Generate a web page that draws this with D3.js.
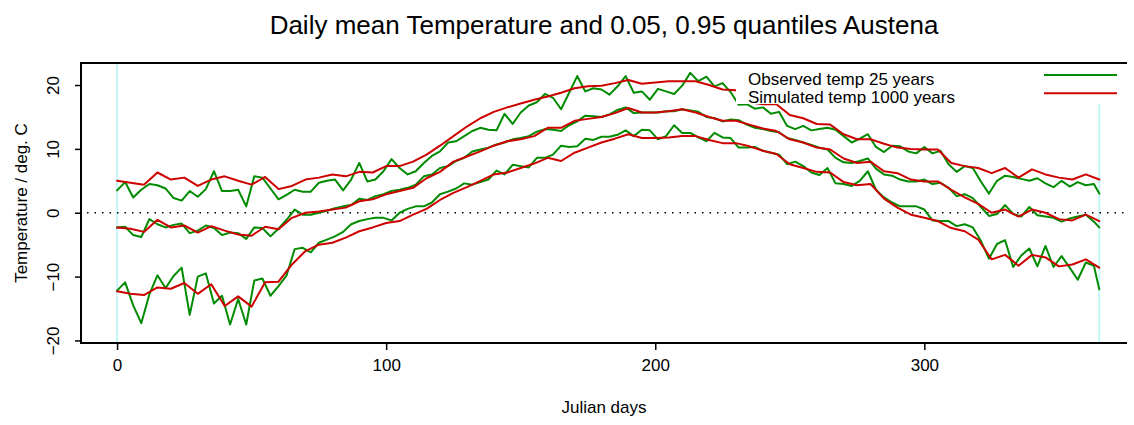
<!DOCTYPE html>
<html>
<head>
<meta charset="utf-8">
<script src="https://cdn.jsdelivr.net/npm/d3@7"></script>
<style>
  body { margin: 0; background: #fff; }
  svg { display: block; font-family: "Liberation Sans", Arial, Helvetica, sans-serif; }
</style>
</head>
<body>
<svg id="chart" width="1134" height="425"></svg>
<script>
// observed (25 years): read every 3rd day, last point is day 365
const obsDays = d3.range(0, 364, 3).concat([365]);
const obsHigh = [3.5, 4.8, 2.4, 3.6, 4.5, 4.3, 3.8, 2.3, 1.9, 3.4, 2.5, 3.7, 6.5, 3.4, 3.4, 3.6, 1.0, 5.7,
  5.5, 3.8, 2.1, 2.8, 3.6, 3.3, 3.3, 4.7, 5.0, 5.2, 3.5, 5.2, 7.8, 4.9, 5.2, 6.5, 8.4,
  7.0, 6.0, 6.5, 7.8, 8.9, 9.6, 11.0, 11.2, 12.0, 12.8, 13.3, 13.0, 12.9, 15.5, 13.9, 15.7, 16.8, 17.3,
  18.6, 18.0, 16.2, 18.8, 21.4, 19.0, 19.5, 19.3, 18.5, 19.8, 21.4, 18.8, 19.0, 17.7, 19.4, 19.0, 18.6, 19.9,
  21.9, 20.6, 21.3, 19.8, 20.3, 18.9, 16.9, 17.0, 16.3, 16.5, 15.5, 15.8, 13.6, 13.1, 13.6, 12.9, 13.1, 13.3,
  13.0, 12.0, 11.0, 11.6, 12.3, 10.3, 9.5, 10.5, 10.4, 9.6, 9.3, 10.3, 9.3, 9.7, 7.6, 6.4, 7.3,
  7.0, 4.9, 3.0, 5.0, 5.8, 5.6, 5.3, 5.0, 5.4, 4.6, 4.0, 5.0, 4.1, 4.8, 4.3, 4.5,
  3.0];
const obsMean = [-2.3, -2.2, -3.5, -3.8, -1.0, -1.8, -2.3, -1.9, -1.7, -3.2, -2.8, -2.0, -2.4, -3.5, -3.1, -3.2, -4.1, -2.3,
  -2.4, -3.7, -2.5, -1.1, 0.5, -0.3, -0.3, 0.0, 0.3, 0.7, 1.0, 1.2, 2.2, 2.0, 2.6, 2.9, 3.4,
  3.6, 3.9, 4.4, 5.7, 6.0, 7.0, 7.3, 8.1, 8.6, 9.6, 9.9, 10.2, 10.7, 11.0, 11.5, 11.7, 12.0, 12.7,
  13.1, 13.0, 12.8, 13.7, 14.3, 15.2, 15.1, 15.0, 15.4, 16.1, 16.5, 15.6, 15.7, 15.7, 15.7, 15.9, 15.9, 16.2,
  16.0, 15.8, 15.0, 14.8, 14.3, 14.6, 14.5, 13.8, 13.3, 13.1, 12.8, 12.6, 11.7, 11.4, 11.0, 10.6, 10.2, 9.9,
  8.6, 7.9, 7.8, 8.1, 8.5, 6.9, 6.0, 5.8, 5.2, 4.9, 4.9, 5.2, 4.5, 4.7, 3.9, 2.6, 2.9,
  2.3, 0.9, -0.5, -0.2, 1.2, -0.2, -0.6, 0.9, -0.4, -0.6, -0.8, -1.4, -0.9, -0.6, -0.3, -1.4,
  -2.3];
const obsLow = [-12.2, -10.9, -14.5, -17.3, -12.8, -9.8, -11.8, -9.9, -8.6, -16.0, -10.0, -9.5, -14.2, -13.0, -17.5, -13.5, -17.5, -10.6,
  -10.3, -13.0, -11.5, -9.8, -5.7, -5.5, -6.2, -4.7, -4.2, -3.7, -3.0, -1.8, -1.3, -1.0, -0.8, -0.8, -1.2,
  0.0, 0.6, 1.0, 1.0, 1.6, 2.9, 3.3, 3.8, 4.6, 4.4, 4.8, 5.2, 6.6, 6.0, 7.5, 7.3, 7.1, 8.6,
  8.6, 9.1, 10.5, 10.3, 10.4, 11.6, 11.4, 11.9, 11.9, 12.2, 12.9, 12.0, 13.0, 12.9, 11.5, 12.0, 13.7, 12.5,
  12.5, 11.8, 11.2, 12.5, 11.8, 11.7, 10.2, 10.2, 10.3, 9.7, 9.4, 9.1, 7.6, 8.0, 7.3, 6.3, 5.9, 7.0,
  4.6, 4.5, 4.2, 5.0, 6.5, 3.6, 2.4, 1.6, 1.0, 1.0, 1.0, 0.5, -1.2, -1.3, -1.3, -2.1, -1.8,
  -2.3, -4.4, -7.2, -4.9, -4.3, -8.5, -6.7, -5.6, -8.4, -5.2, -8.5, -6.8, -8.6, -10.5, -7.8, -8.3,
  -12.0];

// simulated (1000 years): read every 5th day
const simDays = d3.range(0, 366, 5);
const simHigh = [5.0, 4.7, 4.4, 6.3, 5.2, 5.5, 4.2, 5.2, 5.7, 5.0, 4.4,
  5.6, 3.7, 4.2, 5.2, 5.5, 6.0, 5.7, 6.4, 6.3, 7.3,
  7.3, 8.0, 9.1, 10.5, 12.0, 13.5, 14.8, 15.8, 16.5, 17.1, 17.7,
  18.2, 18.8, 19.5, 19.8, 19.9, 20.3, 20.8, 20.2, 20.4, 20.6, 20.6,
  20.6, 20.0, 19.3, 19.2, 17.3, 17.0, 17.0, 15.3, 14.8, 13.9, 13.8,
  12.3, 11.5, 11.5, 10.8, 10.2, 10.0, 9.9, 9.9, 7.8, 7.3,
  7.0, 6.2, 7.0, 5.5, 6.8, 6.0, 5.5, 5.2, 6.0, 5.2];
const simMean = [-2.3, -2.5, -3.0, -1.1, -2.3, -2.0, -3.1, -2.1, -2.8, -3.4, -3.6,
  -2.2, -2.6, -0.8, 0.0, 0.2, 0.5, 0.8, 1.8, 2.1, 2.9,
  3.4, 3.9, 5.4, 6.4, 8.0, 8.8, 9.6, 10.5, 11.2, 11.5, 12.0,
  13.3, 13.3, 14.4, 14.7, 15.0, 15.6, 16.4, 15.7, 15.7, 15.9, 16.2,
  15.7, 15.0, 14.4, 14.4, 13.8, 13.2, 12.8, 11.5, 11.0, 10.2, 9.9,
  8.5, 7.8, 8.0, 6.5, 6.2, 5.2, 4.9, 4.9, 3.6, 2.4,
  1.4, 0.0, 0.5, -0.6, 0.5, 0.0, -1.0, -1.2, -0.3, -1.3];
const simLow = [-12.3, -12.7, -12.9, -11.7, -11.9, -11.0, -12.7, -11.2, -14.6, -13.1, -14.7,
  -10.9, -10.8, -8.1, -6.0, -5.0, -4.7, -3.9, -2.9, -2.3, -1.6,
  -1.3, -0.3, 0.6, 2.0, 3.1, 4.0, 5.0, 6.0, 6.3, 7.0, 7.7,
  8.6, 8.1, 9.4, 10.2, 11.0, 11.6, 12.3, 11.7, 11.7, 11.8, 12.0,
  12.0, 11.4, 10.9, 10.9, 10.4, 9.7, 9.2, 7.6, 7.0, 6.4, 6.3,
  4.8, 4.3, 4.5, 2.2, 0.8, -0.3, -0.8, -1.3, -2.4, -2.9,
  -4.2, -7.3, -6.6, -8.3, -6.6, -7.0, -8.4, -8.1, -7.3, -8.6];

const xTicks = [0, 100, 200, 300];
const yTicks = [-20, -10, 0, 10, 20];
const yearMarks = [0, 365];
const legendLabels = ['Observed temp 25 years', 'Simulated temp 1000 years'];

const green = '#008b00';
const red = '#cd0000';

const svg = d3.select('#chart');
const box = { left: 81, right: 1127, top: 63, bottom: 343 };

const x = d3.scaleLinear().domain([-13.4, 375.3]).range([box.left, box.right]);
const y = d3.scaleLinear().domain([-20.4, 23.45]).range([box.bottom, box.top]);

// cyan start/end of year marks
svg.selectAll('line.yr')
  .data(yearMarks)
  .join('line')
  .attr('x1', d => x(d)).attr('x2', d => x(d))
  .attr('y1', box.top).attr('y2', box.bottom)
  .attr('stroke', '#c4f7f7')
  .attr('stroke-width', 2);

// zero line
svg.append('line')
  .attr('x1', box.left).attr('x2', box.right)
  .attr('y1', y(0)).attr('y2', y(0))
  .attr('stroke', '#000')
  .attr('stroke-width', 1.5)
  .attr('stroke-dasharray', '1.5,6')
  .attr('stroke-dashoffset', -6);

const line = d3.line().x(d => x(d[0])).y(d => y(d[1]));

const series = [
  { days: obsDays, vals: obsHigh, color: green },
  { days: obsDays, vals: obsMean, color: green },
  { days: obsDays, vals: obsLow, color: green },
  { days: simDays, vals: simHigh, color: red },
  { days: simDays, vals: simMean, color: red },
  { days: simDays, vals: simLow, color: red }
];

svg.append('g')
  .selectAll('path')
  .data(series)
  .join('path')
  .attr('d', s => line(s.days.map((d, i) => [d, s.vals[i]])))
  .attr('fill', 'none')
  .attr('stroke', s => s.color)
  .attr('stroke-width', 2)
  .attr('stroke-linejoin', 'round')
  .attr('stroke-linecap', 'round');

// legend (white background hides the lines behind it)
svg.append('rect')
  .attr('x', 736).attr('y', box.top + 1)
  .attr('width', box.right - 736).attr('height', 104 - box.top - 1)
  .attr('fill', '#fff');

const legend = svg.append('g');
legend.selectAll('text')
  .data(legendLabels)
  .join('text')
  .attr('x', 748)
  .attr('y', (d, i) => 85 + i * 17.5)
  .attr('font-size', '17px')
  .attr('fill', '#000')
  .text(d => d);
legend.selectAll('line')
  .data([green, red])
  .join('line')
  .attr('x1', 1044).attr('x2', 1117)
  .attr('y1', (d, i) => 75 + i * 18.3).attr('y2', (d, i) => 75 + i * 18.3)
  .attr('stroke', d => d)
  .attr('stroke-width', 2);

// axes
const xAxis = svg.append('g')
  .attr('transform', `translate(0,${box.bottom})`)
  .call(d3.axisBottom(x).tickValues(xTicks).tickSize(7).tickPadding(9).tickSizeOuter(0));
xAxis.select('.domain').remove();
xAxis.selectAll('line').attr('stroke', '#000').attr('stroke-width', 1.5);
xAxis.selectAll('text').attr('font-size', '17px').attr('fill', '#000').attr('font-family', null);

const yAxis = svg.append('g')
  .attr('transform', `translate(${box.left},0)`)
  .call(d3.axisLeft(y).tickValues(yTicks).tickSize(6).tickSizeOuter(0));
yAxis.select('.domain').remove();
yAxis.selectAll('line').attr('stroke', '#000').attr('stroke-width', 1.5);
yAxis.selectAll('text')
  .attr('x', null).attr('dy', null)
  .attr('transform', 'translate(-22,0) rotate(-90)')
  .attr('text-anchor', 'middle')
  .attr('font-size', '17px')
  .attr('fill', '#000')
  .attr('font-family', null);

// plot frame (top, left, bottom)
svg.append('path')
  .attr('d', `M${box.right},${box.top}H${box.left}V${box.bottom}H${box.right}`)
  .attr('fill', 'none')
  .attr('stroke', '#000')
  .attr('stroke-width', 2);

// titles
svg.append('text')
  .attr('x', (box.left + box.right) / 2).attr('y', 34)
  .attr('text-anchor', 'middle')
  .attr('font-size', '26px')
  .text('Daily mean Temperature and 0.05, 0.95 quantiles Austena');

svg.append('text')
  .attr('x', (box.left + box.right) / 2).attr('y', 413)
  .attr('text-anchor', 'middle')
  .attr('font-size', '17px')
  .text('Julian days');

svg.append('text')
  .attr('transform', `translate(27,${(box.top + box.bottom) / 2}) rotate(-90)`)
  .attr('text-anchor', 'middle')
  .attr('font-size', '17px')
  .text('Temperature / deg. C');
</script>
</body>
</html>
